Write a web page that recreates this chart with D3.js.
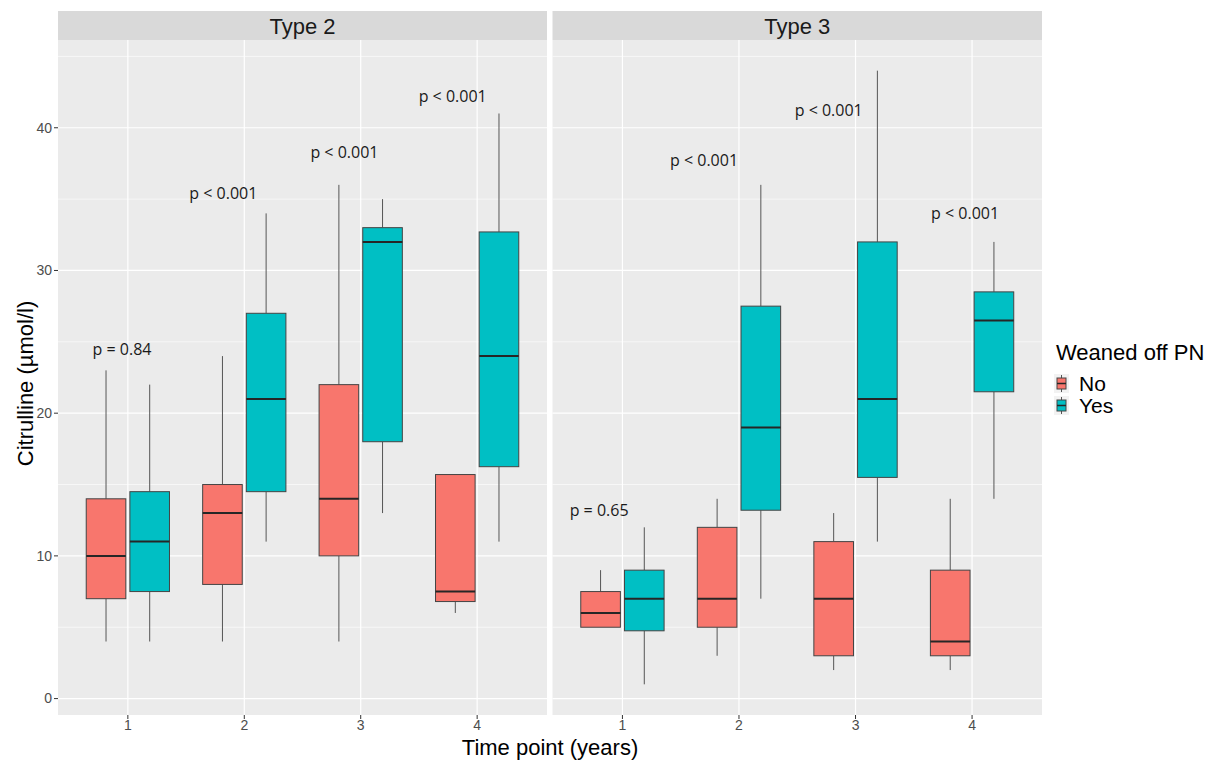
<!DOCTYPE html>
<html>
<head>
<meta charset="utf-8">
<script src="https://cdn.jsdelivr.net/npm/d3@7"></script>
<style>
  body { margin: 0; background: #fff; }
  svg { display: block; }
</style>
</head>
<body>
<div id="chart"></div>
<script>
// years on the x axis, two facets, two groups
var years = [1, 2, 3, 4];
var panels = ["Type 2", "Type 3"];
var groups = ["No", "Yes"];
var yTicks = [0, 10, 20, 30, 40];

// box stats per year: [lower whisker, q1, median, q3, upper whisker]
var type2No  = [[4, 7, 10, 14, 23], [4, 8, 13, 15, 24], [4, 10, 14, 22, 36], [6, 6.8, 7.5, 15.7, 15.7]];
var type2Yes = [[4, 7.5, 11, 14.5, 22], [11, 14.5, 21, 27, 34], [13, 18, 32, 33, 35], [11, 16.25, 24, 32.7, 41]];
var type3No  = [[5, 5, 6, 7.5, 9], [3, 5, 7, 12, 14], [2, 3, 7, 11, 13], [2, 3, 4, 9, 14]];
var type3Yes = [[1, 4.75, 7, 9, 12], [7, 13.2, 19, 27.5, 36], [11, 15.5, 21, 32, 44], [14, 21.5, 26.5, 28.5, 32]];

// p value annotations (x, y in data units)
var type2PText = ["p = 0.84", "p < 0.001", "p < 0.001", "p < 0.001"];
var type2PX = [0.95, 1.82, 2.86, 3.79];
var type2PY = [24.5, 35.4, 38.3, 42.2];
var type3PText = ["p = 0.65", "p < 0.001", "p < 0.001", "p < 0.001"];
var type3PX = [0.8, 1.7, 2.77, 3.94];
var type3PY = [13.2, 37.7, 41.2, 34];

var colors = {No: "#F8766D", Yes: "#00BFC4"};

var W = 1212, H = 762;
var panelTop = 40, panelBottom = 715, stripTop = 11;
var panelX = [[58, 547], [552.5, 1042]];

var svg = d3.select("#chart").append("svg")
  .attr("width", W).attr("height", H)
  .style("font-family", "'Liberation Sans', Arial, sans-serif");

var y = d3.scaleLinear().domain([-1.15, 46.15]).range([panelBottom, panelTop]);

var boxData = [
  {No: type2No, Yes: type2Yes, pText: type2PText, pX: type2PX, pY: type2PY},
  {No: type3No, Yes: type3Yes, pText: type3PText, pX: type3PX, pY: type3PY}
];

var dodge = 0.1875, halfW = 0.17;

panels.forEach(function (name, pi) {
  var x = d3.scaleLinear().domain([0.4, 4.6]).range(panelX[pi]);
  var g = svg.append("g");
  var x0 = panelX[pi][0], x1 = panelX[pi][1];

  // panel background
  g.append("rect")
    .attr("x", x0).attr("y", panelTop)
    .attr("width", x1 - x0).attr("height", panelBottom - panelTop)
    .attr("fill", "#ebebeb");

  // minor grid
  g.selectAll(".minor").data(d3.range(5, 50, 10)).enter().append("line")
    .attr("x1", x0).attr("x2", x1)
    .attr("y1", function (d) { return y(d); }).attr("y2", function (d) { return y(d); })
    .attr("stroke", "#fff").attr("stroke-width", 0.6);
  // major grid
  g.selectAll(".major").data(yTicks).enter().append("line")
    .attr("x1", x0).attr("x2", x1)
    .attr("y1", function (d) { return y(d); }).attr("y2", function (d) { return y(d); })
    .attr("stroke", "#fff").attr("stroke-width", 1.2);
  g.selectAll(".vgrid").data(years).enter().append("line")
    .attr("x1", function (d) { return x(d); }).attr("x2", function (d) { return x(d); })
    .attr("y1", panelTop).attr("y2", panelBottom)
    .attr("stroke", "#fff").attr("stroke-width", 1.2);

  // strip
  g.append("rect")
    .attr("x", x0).attr("y", stripTop)
    .attr("width", x1 - x0).attr("height", panelTop - stripTop)
    .attr("fill", "#d9d9d9");
  g.append("text")
    .attr("x", (x0 + x1) / 2).attr("y", 34)
    .attr("text-anchor", "middle")
    .attr("font-size", 22).attr("fill", "#1a1a1a")
    .text(name);

  // boxes
  groups.forEach(function (grp, gi) {
    var off = gi === 0 ? -dodge : dodge;
    var stats = boxData[pi][grp];
    var bg = g.append("g");
    var items = bg.selectAll("g").data(stats).enter().append("g");
    items.append("line")
      .attr("x1", function (d, i) { return x(years[i] + off); })
      .attr("x2", function (d, i) { return x(years[i] + off); })
      .attr("y1", function (d) { return y(d[4]); })
      .attr("y2", function (d) { return y(d[3]); })
      .attr("stroke", "#555").attr("stroke-width", 1);
    items.append("line")
      .attr("x1", function (d, i) { return x(years[i] + off); })
      .attr("x2", function (d, i) { return x(years[i] + off); })
      .attr("y1", function (d) { return y(d[1]); })
      .attr("y2", function (d) { return y(d[0]); })
      .attr("stroke", "#555").attr("stroke-width", 1);
    items.append("rect")
      .attr("x", function (d, i) { return x(years[i] + off - halfW); })
      .attr("width", function (d, i) { return x(years[i] + off + halfW) - x(years[i] + off - halfW); })
      .attr("y", function (d) { return y(d[3]); })
      .attr("height", function (d) { return y(d[1]) - y(d[3]); })
      .attr("fill", colors[grp])
      .attr("stroke", "#444").attr("stroke-width", 1);
    items.append("line")
      .attr("x1", function (d, i) { return x(years[i] + off - halfW); })
      .attr("x2", function (d, i) { return x(years[i] + off + halfW); })
      .attr("y1", function (d) { return y(d[2]); })
      .attr("y2", function (d) { return y(d[2]); })
      .attr("stroke", "#262626").attr("stroke-width", 2);
  });

  // p labels
  var pd = boxData[pi];
  g.selectAll(".plab").data(pd.pText).enter().append("text")
    .attr("x", function (d, i) { return x(pd.pX[i]); })
    .attr("y", function (d, i) { return y(pd.pY[i]); })
    .attr("dy", "0.35em")
    .attr("text-anchor", "middle")
    .attr("font-family", "'Open Sans', sans-serif")
    .attr("font-size", 16).attr("fill", "#1a1a1a")
    .text(function (d) { return d; });

  // x axis
  var xa = g.append("g").attr("transform", "translate(0," + panelBottom + ")");
  xa.selectAll("line").data(years).enter().append("line")
    .attr("x1", function (d) { return x(d); }).attr("x2", function (d) { return x(d); })
    .attr("y1", 0).attr("y2", 4)
    .attr("stroke", "#333").attr("stroke-width", 1);
  xa.selectAll("text").data(years).enter().append("text")
    .attr("x", function (d) { return x(d); }).attr("y", 15)
    .attr("text-anchor", "middle")
    .attr("font-size", 14).attr("fill", "#4d4d4d")
    .text(function (d) { return d; });
});

// y axis on left panel
var ya = svg.append("g").attr("transform", "translate(" + panelX[0][0] + ",0)");
ya.selectAll("line").data(yTicks).enter().append("line")
  .attr("x1", -4).attr("x2", 0)
  .attr("y1", function (d) { return y(d); }).attr("y2", function (d) { return y(d); })
  .attr("stroke", "#333").attr("stroke-width", 1);
ya.selectAll("text").data(yTicks).enter().append("text")
  .attr("x", -6).attr("y", function (d) { return y(d); })
  .attr("dy", "0.35em")
  .attr("text-anchor", "end")
  .attr("font-size", 14).attr("fill", "#4d4d4d")
  .text(function (d) { return d; });

// axis titles
svg.append("text")
  .attr("transform", "translate(33," + ((panelTop + panelBottom) / 2 + 6) + ") rotate(-90)")
  .attr("text-anchor", "middle")
  .attr("font-size", 22).attr("fill", "#000")
  .text("Citrulline (µmol/l)");
svg.append("text")
  .attr("x", (panelX[0][0] + panelX[1][1]) / 2).attr("y", 755)
  .attr("text-anchor", "middle")
  .attr("font-size", 22).attr("fill", "#000")
  .text("Time point (years)");

// legend
var lg = svg.append("g").attr("transform", "translate(1054,0)");
lg.append("text")
  .attr("x", 2).attr("y", 360)
  .attr("font-size", 22).attr("fill", "#000")
  .text("Weaned off PN");
var li = lg.selectAll(".item").data(groups).enter().append("g")
  .attr("transform", function (d, i) { return "translate(0," + (374 + i * 22) + ")"; });
li.append("rect")
  .attr("x", 0).attr("y", 0).attr("width", 15).attr("height", 19)
  .attr("fill", "#f2f2f2");
li.append("line")
  .attr("x1", 7.5).attr("x2", 7.5).attr("y1", 1).attr("y2", 18)
  .attr("stroke", "#555").attr("stroke-width", 1);
li.append("rect")
  .attr("x", 3).attr("y", 4).attr("width", 9).attr("height", 11)
  .attr("fill", function (d) { return colors[d]; })
  .attr("stroke", "#444").attr("stroke-width", 1);
li.append("line")
  .attr("x1", 3).attr("x2", 12).attr("y1", 9.5).attr("y2", 9.5)
  .attr("stroke", "#262626").attr("stroke-width", 1.5);
li.append("text")
  .attr("x", 25).attr("y", 17)
  .attr("font-size", 21).attr("fill", "#000")
  .text(function (d) { return d; });
</script>
</body>
</html>
